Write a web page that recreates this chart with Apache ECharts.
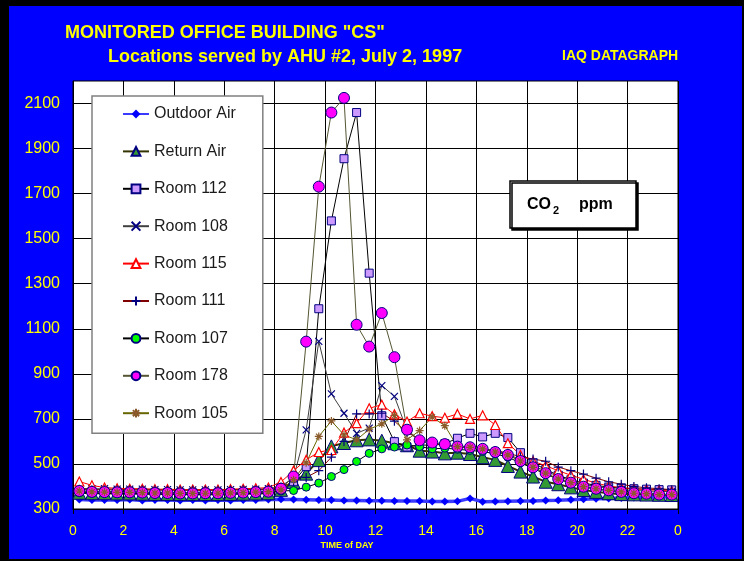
<!DOCTYPE html>
<html>
<head>
<meta charset="utf-8">
<script src="https://cdn.jsdelivr.net/npm/echarts@6/dist/echarts.min.js"></script>
<style>
  html, body { margin: 0; padding: 0; background: #fff; }
  #chart { width: 748px; height: 564px; }
</style>
</head>
<body>
<div id="chart"></div>
<script>
// time of day (hours), one reading every 30 min
const times = [0.25, 0.75, 1.25, 1.75, 2.25, 2.75, 3.25, 3.75, 4.25, 4.75, 5.25, 5.75,
  6.25, 6.75, 7.25, 7.75, 8.25, 8.75, 9.25, 9.75, 10.25, 10.75, 11.25, 11.75,
  12.25, 12.75, 13.25, 13.75, 14.25, 14.75, 15.25, 15.75, 16.25, 16.75, 17.25, 17.75,
  18.25, 18.75, 19.25, 19.75, 20.25, 20.75, 21.25, 21.75, 22.25, 22.75, 23.25, 23.75];

const xTicks = [0, 2, 4, 6, 8, 10, 12, 14, 16, 18, 20, 22, 24];
const yTicks = [300, 500, 700, 900, 1100, 1300, 1500, 1700, 1900, 2100];

// CO2 ppm
const outdoorAir = [342, 340, 340, 340, 342, 338, 340, 340, 338, 340, 338, 340, 338, 340, 340, 342,
  343, 342, 341, 340, 340, 338, 338, 337, 337, 336, 336, 335, 333, 333, 334, 347,
  332, 333, 334, 335, 336, 338, 339, 341, 343, 345, 347, 349, 351, 352, 353, 354];
const returnAir = [372, 370, 370, 369, 369, 368, 367, 367, 366, 366, 366, 366, 367, 368, 369, 370,
  385, 420, 457, 517, 578, 593, 605, 609, 603, 592, 583, 559, 555, 547, 550, 544,
  530, 518, 491, 466, 444, 421, 410, 396, 384, 376, 370, 366, 365, 364, 363, 362];
const room112 = [380, 378, 377, 376, 376, 375, 374, 373, 372, 372, 372, 372, 373, 374, 376, 378,
  395, 421, 488, 1189, 1579, 1855, 2060, 1347, 714, 599, 575, 585, 582, 590, 614, 636,
  620, 636, 617, 550, 505, 475, 450, 430, 415, 405, 397, 393, 390, 388, 386, 385];
const room108 = [392, 390, 390, 388, 388, 388, 386, 386, 385, 385, 385, 385, 386, 387, 388, 390,
  400, 440, 651, 1044, 811, 725, 636, 659, 848, 800, 650, 600, 590, 585, 578, 572,
  568, 558, 545, 518, 492, 468, 445, 425, 410, 400, 392, 386, 382, 380, 378, 377];
const room115 = [422, 405, 395, 392, 390, 390, 388, 388, 386, 386, 386, 386, 388, 390, 392, 395,
  420, 470, 518, 553, 562, 639, 681, 747, 763, 720, 688, 725, 712, 705, 722, 700,
  716, 673, 592, 540, 512, 492, 470, 450, 432, 415, 402, 395, 390, 386, 383, 380];
const room111 = [388, 386, 386, 385, 385, 384, 384, 383, 383, 383, 383, 383, 384, 385, 386, 388,
  398, 420, 440, 470, 530, 600, 722, 722, 725, 690, 640, 610, 592, 582, 576, 570,
  565, 560, 548, 532, 522, 512, 486, 470, 455, 437, 421, 410, 400, 394, 390, 386];
const room107 = [372, 370, 370, 369, 369, 368, 367, 367, 366, 366, 366, 367, 368, 369, 370, 372,
  380, 382, 397, 415, 444, 475, 511, 547, 567, 575, 584, 577, 567, 570, 565, 560,
  555, 545, 530, 505, 480, 455, 432, 415, 398, 388, 382, 376, 371, 368, 365, 364];
const room178 = [380, 376, 375, 374, 374, 373, 371, 371, 369, 369, 370, 370, 372, 373, 375, 377,
  390, 444, 1043, 1731, 2060, 2125, 1118, 1021, 1170, 974, 652, 605, 595, 588, 577, 574,
  567, 553, 540, 513, 485, 459, 433, 417, 399, 390, 383, 376, 370, 368, 364, 364];
const room105 = [380, 376, 375, 374, 374, 373, 371, 371, 369, 369, 370, 370, 372, 373, 375, 377,
  385, 430, 505, 622, 691, 629, 607, 654, 678, 715, 607, 648, 708, 670, 577, 574,
  567, 553, 540, 513, 485, 459, 433, 417, 399, 390, 383, 376, 370, 368, 364, 364];

const FONT = 'Arial, "Liberation Sans", sans-serif';
const YELLOW = '#FFFF00';

const X_PATH = 'path://M0,0L10,10M10,0L0,10';
const PLUS_PATH = 'path://M5,0L5,10M0,5L10,5';
const STAR_PATH = 'path://M5,0L5,10M0,5L10,5M1.5,1.5L8.5,8.5M8.5,1.5L1.5,8.5';

function pairs(vals) {
  return times.map((t, i) => [t, vals[i]]);
}

function line(name, vals, lineColor, lineWidth, symbol, size, fill, border, borderWidth) {
  return {
    name: name,
    type: 'line',
    data: pairs(vals),
    symbol: symbol,
    symbolSize: size,
    showAllSymbol: true,
    color: fill,
    lineStyle: { color: lineColor, width: lineWidth },
    itemStyle: { color: fill, borderColor: border, borderWidth: borderWidth },
    emphasis: { disabled: true },
  };
}

const chart = echarts.init(document.getElementById('chart'));
const option = {
  animation: false,
  backgroundColor: '#fff',
  textStyle: { fontFamily: FONT },
  graphic: [
    // frame
    { type: 'rect', z: -10, shape: { x: 0, y: 0, width: 744, height: 561 }, style: { fill: '#000' } },
    { type: 'rect', z: -9, shape: { x: 9, y: 6, width: 733, height: 553 }, style: { fill: '#0000FF' } },
    // titles
    { type: 'text', x: 65, y: 33, style: { text: 'MONITORED OFFICE BUILDING "CS"', fill: YELLOW,
      font: 'bold 18px ' + FONT, verticalAlign: 'middle' } },
    { type: 'text', x: 108, y: 57, style: { text: 'Locations served by AHU #2, July 2, 1997', fill: YELLOW,
      font: 'bold 18px ' + FONT, verticalAlign: 'middle' } },
    { type: 'text', x: 562, y: 56, style: { text: 'IAQ DATAGRAPH', fill: YELLOW,
      font: 'bold 14px ' + FONT, verticalAlign: 'middle' } },
    { type: 'text', x: 347, y: 546, style: { text: 'TIME of DAY', fill: YELLOW,
      font: 'bold 9px ' + FONT, align: 'center', verticalAlign: 'middle' } },
    // CO2 ppm box
    { type: 'rect', z: 10, shape: { x: 510, y: 181, width: 126, height: 47 },
      style: { fill: '#fff', stroke: '#000', lineWidth: 1.5, shadowColor: '#000', shadowOffsetX: 2, shadowOffsetY: 2 } },
    { type: 'text', z: 11, x: 527, y: 205, style: { text: 'CO', fill: '#000', font: 'bold 16px ' + FONT, verticalAlign: 'middle' } },
    { type: 'text', z: 11, x: 553, y: 211, style: { text: '2', fill: '#000', font: 'bold 11px ' + FONT, verticalAlign: 'middle' } },
    { type: 'text', z: 11, x: 579, y: 205, style: { text: 'ppm', fill: '#000', font: 'bold 16px ' + FONT, verticalAlign: 'middle' } },
  ],
  legend: {
    orient: 'vertical',
    left: 92,
    top: 96,
    padding: [9, 27, 11, 30],
    itemWidth: 26,
    itemHeight: 11,
    itemGap: 19.4,
    backgroundColor: '#fff',
    borderColor: '#808080',
    borderWidth: 1.5,
    textStyle: { fontSize: 16, color: '#1a1a1a', fontFamily: FONT, lineHeight: 18 },
  },
  grid: {
    left: 73, right: 70, top: 81, bottom: 55,
    show: true, backgroundColor: '#fff', borderColor: '#000', borderWidth: 1,
  },
  xAxis: {
    type: 'value',
    min: xTicks[0],
    max: xTicks[xTicks.length - 1],
    interval: 2,
    axisLine: { lineStyle: { color: '#000', width: 1 } },
    axisTick: { show: true, length: 5, lineStyle: { color: '#000' } },
    axisLabel: { color: YELLOW, fontSize: 14, margin: 15, fontFamily: FONT,
      formatter: v => (v === 24 ? '0' : String(v)) },
    splitLine: { show: true, lineStyle: { color: '#000', width: 1 } },
  },
  yAxis: {
    type: 'value',
    min: 300,
    max: 2200,
    interval: 100,
    axisLine: { show: true, lineStyle: { color: '#000', width: 1 } },
    axisTick: { show: false },
    axisLabel: { color: YELLOW, fontSize: 16, margin: 13, fontFamily: FONT,
      formatter: v => (yTicks.indexOf(v) >= 0 ? String(v) : '') },
    // every other 100-step line is drawn, giving lines on the labelled values
    splitLine: { show: true, lineStyle: { color: ['#000', 'rgba(0,0,0,0)'], width: 1 } },
  },
  series: [
    line('Outdoor Air', outdoorAir, '#3b3bff', 3.5, 'diamond', 8, '#0000FF', '#0000FF', 0),
    line('Return Air', returnAir, '#333300', 2, 'triangle', 13, '#339933', '#000080', 1),
    line('Room 112', room112, '#000000', 1, 'rect', 8, '#CC99FF', '#000080', 1),
    line('Room 108', room108, '#404040', 1, X_PATH, 7, '#000080', '#000080', 1.2),
    line('Room 115', room115, '#FF0000', 1, 'triangle', 9, '#FFFFFF', '#FF0000', 1.2),
    line('Room 111', room111, '#800000', 1, PLUS_PATH, 9, '#000080', '#000080', 1.2),
    line('Room 107', room107, '#000000', 1, 'circle', 8, '#00FF00', '#000080', 1),
    line('Room 178', room178, '#555533', 1, 'circle', 11, '#FF00FF', '#000080', 1),
    line('Room 105', room105, '#666600', 1, STAR_PATH, 8, '#8B5A2B', '#8B5A2B', 1.2),
  ],
};
chart.setOption(option);
</script>
</body>
</html>
